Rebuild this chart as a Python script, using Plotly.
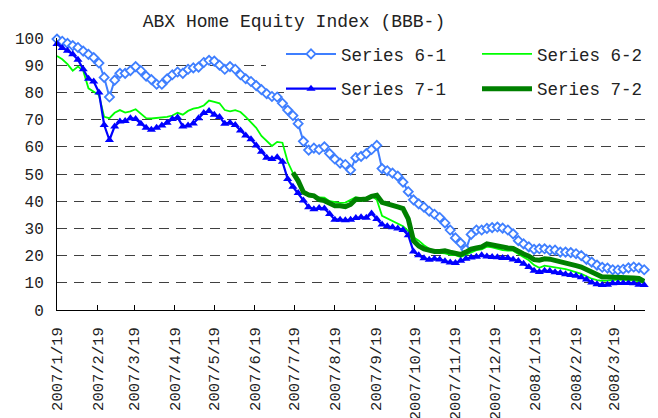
import pandas as pd
import plotly.graph_objects as go

# ---------------- data ----------------
start_date = "2007-01-19"
n_points = 113
step = "4D"
dates = pd.date_range(start_date, periods=n_points, freq=step)

series_6_1 = [99.6, 98.8, 98, 97.2, 96.5, 95.2, 94, 92.8, 90.8, 85.5,
              78.3, 84.5, 87, 87, 88, 89.5, 88, 86, 84.7, 83,
              83, 85, 86.5, 87.5, 87, 88.5, 89, 89.3, 91, 91.8,
              91.5, 90, 88.5, 89.5, 88.5, 86.5, 85, 84, 82.5, 81,
              79.5, 78.5, 78.3, 76, 73.5, 71.5, 68.5, 62, 58.8, 59.5,
              59, 60, 57.5, 55.5, 54, 53.5, 51.5, 56, 56.5, 57.5,
              59, 60.5, 52, 51.2, 50.3, 49.2, 47, 43.5, 40.5, 39,
              37.8, 36.3, 35.2, 34, 32, 29.4, 26.5, 24.6, 22.2, 27.8,
              29.4, 29.4, 30, 30.3, 30.5, 30.1, 29.4, 28, 25.5, 24.3,
              23.2, 22.3, 22.5, 22.5, 22, 22, 21.3, 21.3, 21.1, 20.7,
              20, 18.6, 17.6, 16.5, 15.7, 15.4, 14.8, 14.7, 15, 15.5,
              15.8, 15.5, 14.8]

series_6_2 = [93.4, 92.2, 90.4, 88, 89.5, 88, 81.5, 80.3, 79, 71,
              70.5, 72.5, 73.5, 72.6, 73, 73.8, 72, 70.5, 70.4, 70.6,
              70.8, 71, 71.5, 72.5, 71.8, 73.2, 74, 74.4, 75.2, 77,
              76.5, 76, 73.5, 73, 73.5, 72.8, 71, 68.8, 67, 64,
              62, 60.3, 61.8, 61.5, 54.5, 50, 46.2, 43.8, 41.8, 41.5,
              41.5, 41.3, 40, 39.6, 39.4, 39.5, 40.5, 41.5, 41, 41.2,
              42, 40.5, 34.6, 33.6, 32.8, 31.8, 30.8, 29, 26.7, 25.5,
              23.8, 22.5, 21.5, 21, 20.8, 20.3, 20.2, 19.5, 20.3, 21.3,
              22, 22.3, 23.3, 23, 22.5, 22, 21.8, 21.8, 20.6, 19.5,
              18.3, 16.5, 15.5, 16.3, 16, 15.6, 15.3, 15, 14.5, 13.9,
              13.3, 12.4, 11.5, 11, 10.7, 10.8, 11, 11.2, 11.1, 11,
              10.9, 10.5, 10.2]

series_7_1 = [97.8, 96.3, 95.3, 94, 92, 88.5, 85, 84, 80, 68,
              62.5, 67.5, 69.3, 69.5, 70.5, 70.2, 68.5, 67, 66.3, 67,
              67.8, 68.8, 70.2, 70.8, 67.5, 67.8, 68.6, 70.5, 72.4, 73.2,
              71.8, 71, 68.5, 68.8, 68, 66, 64.2, 62.8, 60.5, 58.2,
              56, 55.5, 56.2, 54.5, 48.2, 45.3, 43, 40.3, 37.8, 37,
              37.5, 37.3, 35.3, 33.2, 33.2, 33, 33.2, 33.8, 34.1, 33.9,
              35.5, 33.5, 31.4, 30.8, 30.4, 30, 29.4, 27.5, 21.5, 20.1,
              19, 18.5, 18.8, 18.6, 17.9, 17.5, 17.3, 18.1, 18.8, 19.3,
              19.6, 20.1, 19.7, 19.5, 19.4, 19.1, 19.1, 18.6, 18, 17,
              15.8, 14.4, 14, 14.4, 14.3, 13.9, 13.6, 13.1, 12.9, 12.6,
              12, 11.2, 10.1, 9.5, 9.2, 9.3, 9.8, 9.9, 9.9, 9.9,
              9.8, 9.3, 9.2]

series_7_2_start_index = 45
series_7_2 = [50.5, 47.5, 43.3, 42.3, 42, 40.6, 40.2, 39.3, 38.3, 38.3,
              38, 38.8, 40.7, 40.6, 40.8, 41.8, 42.2, 39.6, 38.9, 38.4,
              37.9, 37.3, 33.5, 25.5, 23.5, 22.5, 22, 21.5, 21.5, 21.8,
              21.3, 21, 20.4, 21.3, 22.4, 22.8, 23.2, 24.3, 23.9, 23.3,
              22.9, 22.8, 22.6, 21.4, 20.6, 19.8, 18.5, 18.3, 18.8, 18.7,
              18.3, 17.7, 17.3, 16.8, 16.3, 15.8, 14.9, 13.9, 12.8, 12.1,
              12.1, 12.1, 12.1, 12, 11.8, 11.8, 11.6, 10.5]

tick_dates = ["2007-01-19", "2007-02-19", "2007-03-19", "2007-04-19", "2007-05-19",
              "2007-06-19", "2007-07-19", "2007-08-19", "2007-09-19", "2007-10-19",
              "2007-11-19", "2007-12-19", "2008-01-19", "2008-02-19", "2008-03-19"]
tick_labels = ["2007/1/19", "2007/2/19", "2007/3/19", "2007/4/19", "2007/5/19",
               "2007/6/19", "2007/7/19", "2007/8/19", "2007/9/19", "2007/10/19",
               "2007/11/19", "2007/12/19", "2008/1/19", "2008/2/19", "2008/3/19"]

y_ticks = list(range(0, 101, 10))
title_text = "ABX Home Equity Index (BBB-)"

# ---------------- figure ----------------
W, H = 658, 418
FONT = "Liberation Mono"
TXT = "#222222"

fig = go.Figure()
fig.add_trace(go.Scatter(
    x=dates, y=series_6_1, name="Series 6-1", mode="lines+markers",
    line=dict(color="#3F7FFF", width=2),
    marker=dict(symbol="diamond", size=7, color="white",
                line=dict(color="#3F7FFF", width=1.8)),
    cliponaxis=False, legend="legend", legendgroup="a"))
fig.add_trace(go.Scatter(
    x=dates, y=series_6_2, name="Series 6-2", mode="lines",
    line=dict(color="#00FF00", width=1.8),
    cliponaxis=False, legend="legend2", legendgroup="b"))
fig.add_trace(go.Scatter(
    x=dates, y=series_7_1, name="Series 7-1", mode="lines+markers",
    line=dict(color="#0000FF", width=2.2),
    marker=dict(symbol="triangle-up", size=8, color="#0000FF"),
    cliponaxis=False, legend="legend", legendgroup="c"))
fig.add_trace(go.Scatter(
    x=dates[series_7_2_start_index:], y=series_7_2, name="Series 7-2", mode="lines",
    line=dict(color="#008000", width=5),
    cliponaxis=False, legend="legend2", legendgroup="d"))

L, R, T, B = 57, 13, 38, 108
pw, ph = W - L - R, H - T - B

def px_x(p):
    return (p - L) / pw

def px_y(p):
    return (H - B - p) / ph

# white legend area (hides gridlines behind the legend)
fig.add_shape(type="rect", xref="paper", yref="paper",
              x0=px_x(284), x1=px_x(660), y0=px_y(94), y1=px_y(30),
              fillcolor="white", line=dict(width=0), layer="above")
fig.add_shape(type="rect", xref="paper", yref="paper",
              x0=px_x(266), x1=px_x(285), y0=px_y(86), y1=px_y(30),
              fillcolor="white", line=dict(width=0), layer="above")

legend_common = dict(
    xref="paper", yref="paper", xanchor="left", yanchor="top",
    orientation="v", bgcolor="rgba(0,0,0,0)", borderwidth=0,
    font=dict(family=FONT, size=17.5, color=TXT),
    itemwidth=50, tracegroupgap=9, traceorder="grouped")

fig.update_layout(
    width=W, height=H,
    margin=dict(l=L, r=R, t=T, b=B, pad=0, autoexpand=False),
    paper_bgcolor="white", plot_bgcolor="white",
    showlegend=True,
    title=dict(text=title_text, x=294 / W, xanchor="center",
               y=1 - 21 / H, yanchor="middle", xref="container", yref="container",
               font=dict(family=FONT, size=18, color=TXT)),
    legend=dict(x=px_x(281), y=px_y(36), **legend_common),
    legend2=dict(x=px_x(477), y=px_y(36), **legend_common),
    xaxis=dict(
        type="date",
        range=["2007-01-19", "2008-04-11 15:00"],
        tickvals=tick_dates, ticktext=tick_labels, tickangle=-90,
        ticks="inside", ticklen=5, tickcolor="black", tickwidth=1,
        showline=True, linecolor="black", linewidth=1,
        showgrid=False, zeroline=False,
        tickfont=dict(family=FONT, size=15.5, color=TXT),
        ticklabelstandoff=10, automargin=False,
    ),
    yaxis=dict(
        range=[0, 100], tickvals=y_ticks,
        showline=True, linecolor="black", linewidth=1,
        showgrid=True, gridcolor="#404040", gridwidth=1, griddash="10px,7px",
        zeroline=False, ticks="",
        tickfont=dict(family=FONT, size=16, color=TXT),
        ticklabelstandoff=9, automargin=False,
    ),
)

fig.write_html("out.html", config={"displayModeBar": False},
               post_script="document.body.style.margin='0px';")
